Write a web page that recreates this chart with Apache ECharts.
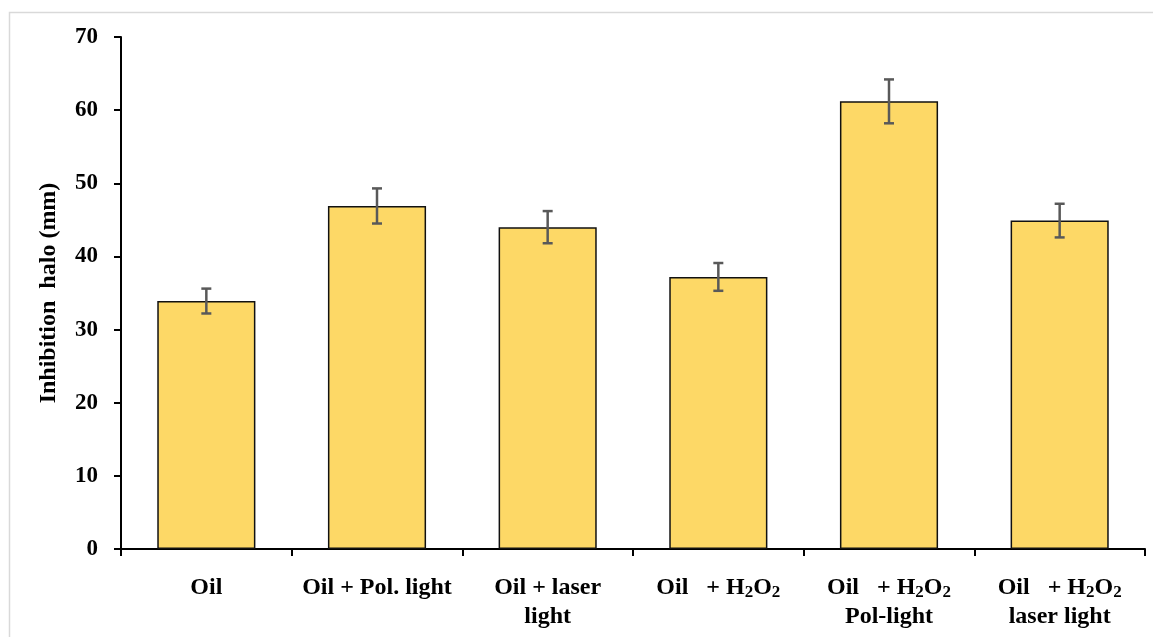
<!DOCTYPE html>
<html>
<head>
<meta charset="utf-8">
<script src="https://cdn.jsdelivr.net/npm/echarts@6/dist/echarts.min.js"></script>
<style>
html,body{margin:0;padding:0;background:#fff;}
#chart{width:1153px;height:637px;}
</style>
</head>
<body>
<div id="chart"></div>
<script>
var categories = [
  '{a|Oil}',
  '{a|Oil + Pol. light}',
  '{a|Oil + laser}\n{a|light}',
  '{a|Oil   + H}{s|2}{a|O}{s|2}',
  '{a|Oil   + H}{s|2}{a|O}{s|2}\n{a|Pol-light}',
  '{a|Oil   + H}{s|2}{a|O}{s|2}\n{a|laser light}'
];
var values = [33.9, 46.9, 44.0, 37.2, 61.2, 44.9];
var errors = [1.7, 2.4, 2.2, 1.9, 3.0, 2.3];
var yTicks = [0, 10, 20, 30, 40, 50, 60, 70];

var errData = values.map(function (v, i) { return [i, v - errors[i], v + errors[i]]; });
var font = '"Liberation Serif", "DejaVu Serif", serif';

var chart = echarts.init(document.getElementById('chart'));
chart.setOption({
  animation: false,
  backgroundColor: '#fff',
  graphic: [{
    type: 'rect', left: 7, top: 10, shape: { width: 1300, height: 800 },
    style: { fill: 'none', stroke: '#d9d9d9', lineWidth: 1.5 }, silent: true
  }],
  grid: { left: 121, right: 8, top: 37, bottom: 88 },
  xAxis: {
    type: 'category',
    data: categories,
    axisLine: { lineStyle: { color: '#000', width: 2 } },
    axisTick: { show: true, length: 7, lineStyle: { color: '#000', width: 2 } },
    axisLabel: {
      interval: 0, margin: 24, color: '#000', lineHeight: 29,
      rich: {
        a: { fontFamily: font, fontWeight: 'bold', fontSize: 24, color: '#000', lineHeight: 29 },
        s: { fontFamily: font, fontWeight: 'bold', fontSize: 17, color: '#000', padding: [10, 0, 0, 0], lineHeight: 29 }
      }
    }
  },
  yAxis: {
    type: 'value', min: 0, max: 70, interval: 10,
    name: 'Inhibition  halo (mm)',
    nameLocation: 'middle', nameGap: 60, nameRotate: 90,
    nameTextStyle: { fontFamily: font, fontWeight: 'bold', fontSize: 24, color: '#000' },
    axisLine: { show: true, lineStyle: { color: '#000', width: 2 } },
    axisTick: { show: true, length: 7, lineStyle: { color: '#000', width: 2 } },
    splitLine: { show: false },
    axisLabel: {
      margin: 23, fontFamily: font, fontWeight: 'bold', fontSize: 23, color: '#000',
      formatter: function (v) { return yTicks.indexOf(v) >= 0 ? String(v) : ''; }
    }
  },
  series: [{
    type: 'bar',
    data: values,
    barWidth: '57.5%',
    itemStyle: { color: '#FDD866', borderColor: '#111', borderWidth: 1.5 }
  }, {
    type: 'custom',
    data: errData,
    z: 10,
    renderItem: function (params, api) {
      var x = api.value(0);
      var lo = api.coord([x, api.value(1)]);
      var hi = api.coord([x, api.value(2)]);
      var cw = 5;
      var st = { stroke: '#595959', lineWidth: 2.5, fill: 'none' };
      return {
        type: 'group',
        children: [
          { type: 'line', shape: { x1: hi[0], y1: hi[1], x2: lo[0], y2: lo[1] }, style: st },
          { type: 'line', shape: { x1: hi[0] - cw, y1: hi[1], x2: hi[0] + cw, y2: hi[1] }, style: st },
          { type: 'line', shape: { x1: lo[0] - cw, y1: lo[1], x2: lo[0] + cw, y2: lo[1] }, style: st }
        ]
      };
    }
  }]
});
</script>
</body>
</html>
